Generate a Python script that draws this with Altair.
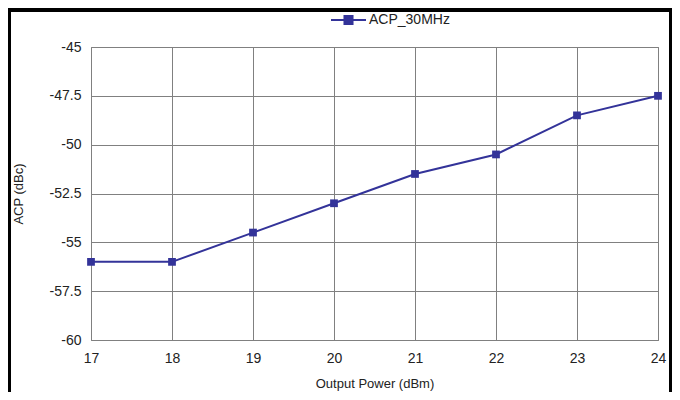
import altair as alt
import pandas as pd

output_power = [17, 18, 19, 20, 21, 22, 23, 24]
acp_30mhz = [-56.0, -56.0, -54.5, -53.0, -51.5, -50.5, -48.5, -47.5]
y_ticks = [-60, -57.5, -55, -52.5, -50, -47.5, -45]
series_name = "ACP_30MHz"

df = pd.DataFrame({"x": output_power, "y": acp_30mhz, "s": [series_name] * len(output_power)})

NAVY = "#333399"
FONT = "Liberation Sans"
PLOT_W = 567

xs = alt.X("x:Q", scale=alt.Scale(domain=[17, 24], nice=False),
           axis=alt.Axis(title="Output Power (dBm)", values=output_power, labelExpr="datum.value + ''",
                         grid=True, ticks=False, domain=False, labelPadding=11, labelFlush=False,
                         titlePadding=12, titleFontWeight="normal"))
ys = alt.Y("y:Q", scale=alt.Scale(domain=[-60, -45], nice=False),
           axis=alt.Axis(title="ACP (dBc)", values=y_ticks, labelExpr="datum.value + ''",
                         grid=True, ticks=False, domain=False, labelPadding=10, labelFlush=False,
                         titleFontWeight="normal", titleX=-73, titleY=146.5,
                         titleAlign="center", titleBaseline="middle", titleAngle=270))
color = alt.Color("s:N", scale=alt.Scale(range=[NAVY]),
                  legend=alt.Legend(title=None, orient="none", legendX=239, legendY=-45.5,
                                    symbolType="M-1,0L1,0M-0.23,-0.23L0.23,-0.23L0.23,0.23L-0.23,0.23Z",
                                    symbolSize=1225, symbolStrokeWidth=2, symbolFillColor=NAVY,
                                    labelFontSize=14, labelFont=FONT, labelOffset=2,
                                    labelColor="#222222"))

line = alt.Chart(df).mark_line(strokeWidth=2).encode(x=xs, y=ys, color=color)
pts = alt.Chart(df).mark_square(size=60, opacity=1, filled=True).encode(
    x=xs, y=ys, color=alt.Color("s:N", scale=alt.Scale(range=[NAVY]), legend=None))

# outer frame (decorative)
frame_top = alt.Chart(df).mark_rule(color="black", strokeWidth=4, clip=False).encode(
    x=alt.value(-83), x2=alt.value(581), y=alt.value(-37))
frame_left = alt.Chart(df).mark_rule(color="black", strokeWidth=3, clip=False).encode(
    x=alt.value(-81.5), y=alt.value(-39), y2=alt.value(345))
frame_right = alt.Chart(df).mark_rule(color="black", strokeWidth=3, clip=False).encode(
    x=alt.value(579.5), y=alt.value(-39), y2=alt.value(345))

chart = alt.layer(frame_top, frame_left, frame_right, line, pts).properties(
    width=PLOT_W, height=293,
    autosize=alt.AutoSizeParams(type="none"),
    padding={"left": 83, "top": 39, "right": 664 - 83 - PLOT_W, "bottom": 52},
).configure_view(stroke="#808080", strokeWidth=1).configure_axis(
    gridColor="#808080", gridOpacity=1, gridWidth=1,
    labelFont=FONT, labelFontSize=14, labelColor="#222222",
    titleFont=FONT, titleFontSize=13, titleColor="#222222",
)

chart.save("out.html", embed_options={"renderer": "svg", "actions": False})
